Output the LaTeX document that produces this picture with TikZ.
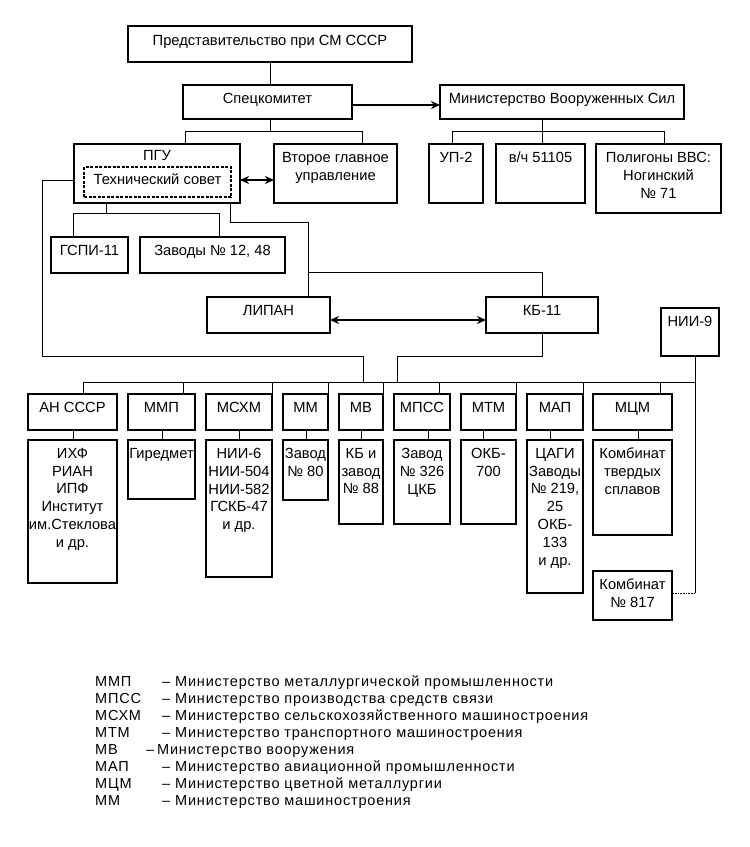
\documentclass[tikz,border=0pt]{standalone}
\usepackage{fontspec}
\setmainfont{Liberation Sans}
\usetikzlibrary{arrows.meta}
\newcommand\bxx[7][8]{%
  \node[box, anchor=north west, minimum width={(#5-#3)*1pt}, minimum height={(#6-#4)*1pt}] (#2) at (#3,#4) {};
  \node[lbl] (#2t) at ({(#3+#5)/2},{#4+#1}) {#7};}
\newcommand\lgline[6]{%
  \node[leg] (#1a) at (95,#2) {#3};
  \node[leg] (#1d) at (#4,#2) {–};
  \node[leg] (#1t) at (#5,#2) {#6};}
\begin{document}
\begin{tikzpicture}[x=1pt,y=-1pt,
  box/.style={draw, line width=1.7pt, inner sep=0pt, outer sep=0pt},
  dbox/.style={draw, line width=2pt, dash pattern=on 3pt off 1.5pt, inner sep=0pt, outer sep=0pt},
  lbl/.style={font=\fontsize{14.7}{17.8}\selectfont, align=center, inner sep=0pt, anchor=north},
  leg/.style={font=\fontsize{14.5}{17}\selectfont\addfontfeature{LetterSpace=5.5}, inner sep=0pt, anchor=base west},
  conn/.style={line width=1pt},
  dotconn/.style={line width=1pt, dash pattern=on 1pt off 0.6pt},
  arr/.style={line width=2pt, -{Stealth[length=9pt,width=8pt]}},
  dbl/.style={line width=2pt, {Stealth[length=9pt,width=8pt]}-{Stealth[length=9pt,width=8pt]}}]
\useasboundingbox (0,0) rectangle (750,847);

% top level
\bxx[9]{top}{128}{26}{412}{62}{Представительство при СМ СССР}
\bxx{sk}{183}{85}{352}{119}{Спецкомитет}
\bxx{mvs}{440}{85}{684}{119}{Министерство Вооруженных Сил}
\draw[conn] (top.south) -- (top.south |- sk.north);
\draw[arr] ([yshift=-3pt]sk.east) -- ([yshift=-3pt]mvs.west);

% Spetskomitet children
\bxx[6]{pgu}{74}{144}{240}{203}{ПГУ}
\node[dbox, anchor=north west, minimum width=147pt, minimum height=30pt] (ts) at (84,167) {};
\node[lbl] (tst) at (157.5,173) {Технический совет};
\bxx{vg}{274}{144}{397}{203}{Второе главное\\управление}
\coordinate (s1) at (270,131);
\coordinate (sL) at (185,131);
\coordinate (sR) at (362,131);
\draw[conn] (s1 |- sk.south) -- (s1);
\draw[conn] (sL |- pgu.north) -- (sL) -- (sR) -- (sR |- vg.north);
\draw[dbl] ([yshift=2pt]pgu.east |- ts.east) -- ([yshift=2pt]vg.west |- ts.east);

% MVS children
\bxx{up}{429}{144}{483}{203}{УП-2}
\bxx{vch}{496}{144}{585}{203}{в/ч 51105}
\bxx{pol}{596}{144}{721}{213}{Полигоны ВВС:\\Ногинский\\№ 71}
\coordinate (m1) at (542,131);
\coordinate (mL) at (452,131);
\coordinate (mR) at (664,131);
\draw[conn] (m1 |- mvs.south) -- (m1 |- vch.north);
\draw[conn] (mL |- up.north) -- (mL) -- (mR) -- (mR |- pol.north);

% PGU children
\bxx{gspi}{51}{237}{128}{273}{ГСПИ-11}
\bxx{zav}{140}{237}{285}{273}{Заводы № 12, 48}
\coordinate (p1) at (106,213);
\coordinate (pL) at (73,213);
\coordinate (pR) at (219,213);
\draw[conn] (p1 |- pgu.south) -- (p1);
\draw[conn] (pL |- gspi.north) -- (pL) -- (pR) -- (pR |- zav.north);

% LIPAN, KB-11
\bxx{lip}{207}{297}{330}{333}{ЛИПАН}
\bxx{kb}{486}{297}{598}{333}{КБ-11}
\bxx{nii}{661}{308}{719}{356}{НИИ-9}
\coordinate (q1) at (230,222);
\coordinate (q2) at (308,222);
\coordinate (q3) at (308,272);
\coordinate (q4) at (542,272);
\draw[conn] (q1 |- pgu.south) -- (q1) -- (q2) -- (q2 |- lip.north);
\draw[conn] (q3) -- (q4) -- (q4 |- kb.north);
\draw[dbl] ([yshift=-5pt]lip.east) -- ([yshift=-5pt]kb.west);

% long lines to the bus
\coordinate (l1) at (42,180);
\coordinate (l2) at (42,356);
\coordinate (l3) at (363,356);
\coordinate (l4) at (363,382);
\draw[conn] (pgu.west |- l1) -- (l1) -- (l2) -- (l3) -- (l4);
\coordinate (k1) at (542,356);
\coordinate (k2) at (397,356);
\coordinate (k3) at (397,382);
\draw[conn] (k1 |- kb.south) -- (k1) -- (k2) -- (k3);

% ministries
\bxx{an}{28}{394}{117}{430}{АН СССР}
\bxx{mmp}{128}{394}{195}{430}{ММП}
\bxx{msx}{206}{394}{272}{430}{МСХМ}
\bxx{mm}{283}{394}{328}{430}{ММ}
\bxx{mv}{339}{394}{383}{430}{МВ}
\bxx{mps}{394}{394}{450}{430}{МПСС}
\bxx{mtm}{461}{394}{516}{430}{МТМ}
\bxx{map}{527}{394}{583}{430}{МАП}
\bxx{mcm}{593}{394}{672}{430}{МЦМ}
\coordinate (bL) at (83,382);
\coordinate (bR) at (695,382);
\draw[conn] (bL) -- (bR);
\foreach \n/\x in {an/83, mmp/183, msx/272, mm/328, mv/383, mps/439, mtm/516, map/583, mcm/660}
  \draw[conn] (\x,382) -- (\n.north -| \x,0);

% subordinate organisations
\bxx{anc}{28}{440}{117}{583}{ИХФ\\РИАН\\ИПФ\\Институт\\им.Стеклова\\и др.}
\bxx{mmpc}{128}{440}{195}{499}{Гиредмет}
\bxx{msxc}{206}{440}{272}{577}{НИИ-6\\НИИ-504\\НИИ-582\\ГСКБ-47\\и др.}
\bxx{mmc}{283}{440}{328}{500}{Завод\\№ 80}
\bxx{mvc}{339}{440}{383}{524}{КБ и\\завод\\№ 88}
\bxx{mpsc}{394}{440}{450}{524}{Завод\\№ 326\\ЦКБ}
\bxx{mtmc}{461}{440}{516}{524}{ОКБ-\\700}
\bxx{mapc}{527}{440}{583}{593}{ЦАГИ\\Заводы\\№ 219,\\25\\ОКБ-\\133\\и др.}
\bxx{mcmc}{593}{440}{672}{535}{Комбинат\\твердых\\сплавов}
\bxx{k817}{593}{571}{672}{620}{Комбинат\\№ 817}
\foreach \a/\b/\x in {an/anc/73, mmp/mmpc/162, msx/msxc/239, mm/mmc/306, mv/mvc/361, mps/mpsc/428, mtm/mtmc/483, map/mapc/550, mcm/mcmc/638}
  \draw[conn] (\a.south -| \x,0) -- (\b.north -| \x,0);
\coordinate (n1) at (695,593);
\draw[conn] (nii.south -| n1) -- (n1);
\draw[dotconn] (n1) -- (k817.east |- n1);

% legend
\lgline{g1}{686}{ММП}{162}{175}{Министерство металлургической промышленности}
\lgline{g2}{703}{МПСС}{162}{175}{Министерство производства средств связи}
\lgline{g3}{720}{МСХМ}{162}{175}{Министерство сельскохозяйственного машиностроения}
\lgline{g4}{737}{МТМ}{162}{175}{Министерство транспортного машиностроения}
\lgline{g5}{754}{МВ}{146}{157}{Министерство вооружения}
\lgline{g6}{771}{МАП}{162}{175}{Министерство авиационной промышленности}
\lgline{g7}{788}{МЦМ}{162}{175}{Министерство цветной металлургии}
\lgline{g8}{805}{ММ}{162}{175}{Министерство машиностроения}
\end{tikzpicture}
\end{document}
